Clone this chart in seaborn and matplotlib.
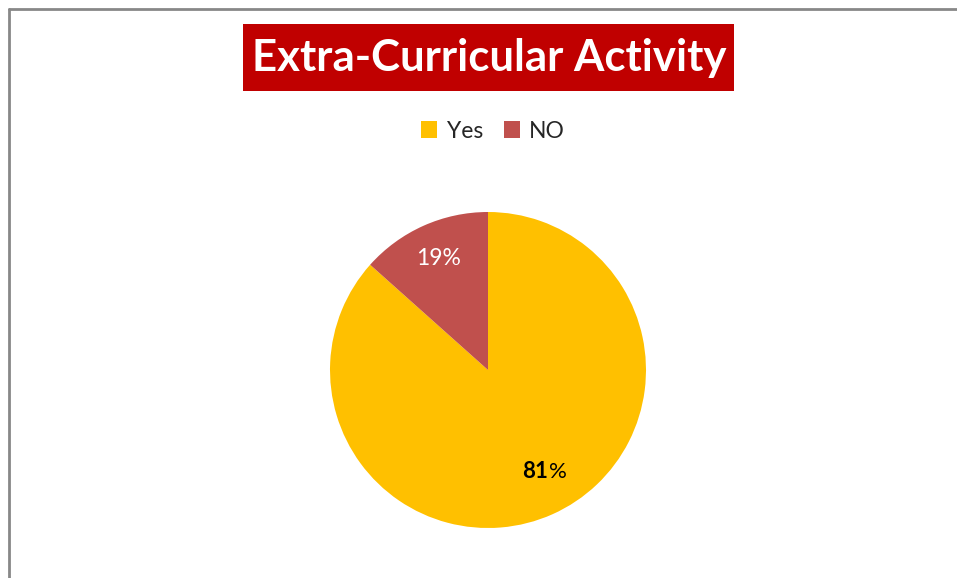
import matplotlib
matplotlib.use("Agg")
import matplotlib.pyplot as plt
from matplotlib.patches import Rectangle, Patch
from matplotlib.lines import Line2D
import numpy as np
import seaborn as sns

# data (slice sizes from the drawn angles, labels as printed)
categories = ["Yes", "NO"]
shares = [86.6, 13.4]
shown_labels = ["81", "19"]
colors = sns.color_palette(["#FFC000", "#C0504D"])

sns.set_style("white")
plt.rcParams["font.family"] = ["Lato", "DejaVu Sans"]

W, H = 957, 578
fig = plt.figure(figsize=(W / 100, H / 100), dpi=100)
fig.patch.set_facecolor("white")

# gray chart frame (left and top edges visible)
fig.add_artist(Line2D([8.5 / W, 8.5 / W], [0, 1 - 8.5 / H], color="#888888", lw=2))
fig.add_artist(Line2D([8.5 / W, 1], [1 - 8.5 / H, 1 - 8.5 / H], color="#888888", lw=2))

# title box
fig.add_artist(Rectangle((243 / W, 1 - 91 / H), 491 / W, 67 / H,
                         facecolor="#C00000", edgecolor="none"))
fig.text(489 / W, 1 - 58.5 / H, "Extra-Curricular Activity", color="white",
         fontsize=31.5, fontweight="bold", ha="center", va="center")

# pie
cx, cy, r = 488, 370, 158
ax = fig.add_axes([(cx - r) / W, 1 - (cy + r) / H, 2 * r / W, 2 * r / H])
wedges, _ = ax.pie(shares, colors=colors, startangle=90, counterclock=False,
                   radius=1, wedgeprops=dict(linewidth=0))
ax.set_xlim(-1, 1)
ax.set_ylim(-1, 1)
ax.axis("off")

# slice labels at the mid-angle of each slice
ang = 90 - np.cumsum([0] + shares[:-1]) / 100 * 360 - np.array(shares) / 100 * 180
rad = np.deg2rad(ang)
d = [0.74, 0.77]
x0, y0 = d[0] * np.cos(rad[0]) + 0.08, d[0] * np.sin(rad[0]) + 0.03
t1 = ax.text(x0, y0, shown_labels[0], fontsize=16, fontweight="bold",
             color="black", ha="right", va="center")
ax.annotate("%", xy=(1, 0), xycoords=t1, xytext=(0.5, 0), textcoords="offset points",
            fontsize=16, color="black", ha="left", va="bottom")
ax.text(d[1] * np.cos(rad[1]), d[1] * np.sin(rad[1]), shown_labels[1] + "%",
        fontsize=16.5, color="white", ha="center", va="center")

# legend
handles = [Patch(facecolor=c, edgecolor="none") for c in colors]
fig.legend(handles, categories, loc="center", bbox_to_anchor=(493 / W, 1 - 131 / H),
           ncol=2, frameon=False, fontsize=16.5, handlelength=0.7, handleheight=0.7,
           handletextpad=0.4, columnspacing=0.9)

fig.savefig("out.png", dpi=100)
